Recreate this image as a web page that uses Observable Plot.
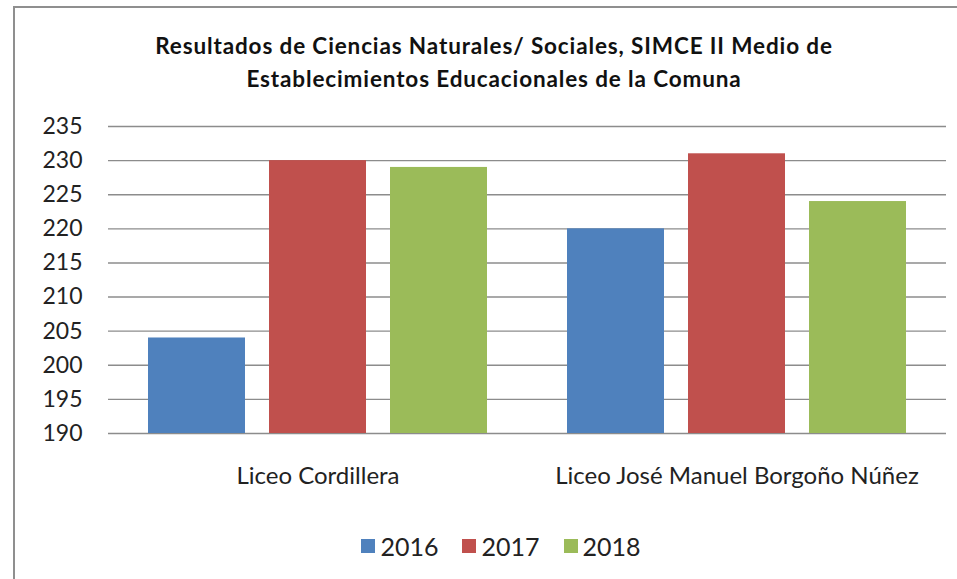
<!DOCTYPE html>
<html>
<head>
<meta charset="utf-8">
<script src="https://cdn.jsdelivr.net/npm/d3@7"></script>
<script src="https://cdn.jsdelivr.net/npm/@observablehq/plot@0.6"></script>
<style>
  html, body { margin: 0; padding: 0; background: #fff; }
  #frame { position: relative; width: 957px; height: 579px; overflow: hidden; font-family: Lato, "Liberation Sans", sans-serif; color: #222; }
  #border { position: absolute; left: 13px; top: 6px; width: 960px; height: 600px; border-left: 2px solid #8f8f8f; border-top: 2px solid #8f8f8f; box-sizing: border-box; }
  #title { position: absolute; left: 0; width: 988px; top: 29px; text-align: center; font-weight: bold; font-size: 22.5px; letter-spacing: 0.87px; line-height: 33px; color: #111; }
  #chart { position: absolute; left: 0; top: 0; }
  #legend { position: absolute; left: 0; width: 1002px; top: 531px; height: 30px; display: flex; justify-content: center; align-items: center; font-size: 25px; color: #222; }
  #legend .item { display: flex; align-items: center; margin: 0 12px; }
  #legend .sw { width: 14px; height: 14px; margin-right: 5px; }
</style>
</head>
<body>
<div id="frame">
  <div id="border"></div>
  <div id="chart"></div>
  <div id="title">Resultados de Ciencias Naturales/ Sociales, SIMCE II Medio de<br>Establecimientos Educacionales de la Comuna</div>
  <div id="legend"></div>
</div>
<script>
const schools = ["Liceo Cordillera", "Liceo José Manuel Borgoño Núñez"];
const years = ["2016", "2017", "2018"];
const values2016 = [204, 220];
const values2017 = [230, 231];
const values2018 = [229, 224];
const yTicks = [190, 195, 200, 205, 210, 215, 220, 225, 230, 235];
const colors = ["#4F81BD", "#C0504D", "#9BBB59"];

const series = [values2016, values2017, values2018];
const data = [];
schools.forEach((s, i) => years.forEach((y, j) => data.push({school: s, year: y, value: series[j][i]})));

const plot = Plot.plot({
  width: 957,
  height: 520,
  marginLeft: 108,
  marginRight: 11,
  marginTop: 126,
  marginBottom: 87,
  style: {fontFamily: "Lato, 'Liberation Sans', sans-serif", background: "transparent", color: "#222"},
  fx: {domain: schools, padding: 0, label: null},
  x: {domain: years, paddingInner: 0.197, paddingOuter: 0.316, axis: null},
  y: {domain: [190, 235], ticks: yTicks, label: null},
  color: {domain: years, range: colors},
  marks: [
    Plot.ruleY(yTicks, {stroke: "#8c8c8c", strokeWidth: 1.4}),
    Plot.barY(data, {fx: "school", x: "year", y1: 190, y2: "value", fill: "year"}),
    Plot.axisY({ticks: yTicks, tickSize: 0, tickPadding: 26, fontSize: 23, label: null}),
    Plot.axisFx({anchor: "bottom", tickSize: 0, tickPadding: 33, fontSize: 24, label: null, style: {letterSpacing: "0.5px"}})
  ]
});
document.getElementById("chart").appendChild(plot);

const color = plot.scale("color");
const legend = d3.select("#legend");
years.forEach(y => {
  const item = legend.append("div").attr("class", "item");
  item.append("div").attr("class", "sw").style("background", color.apply(y));
  item.append("span").text(y);
});
</script>
</body>
</html>
